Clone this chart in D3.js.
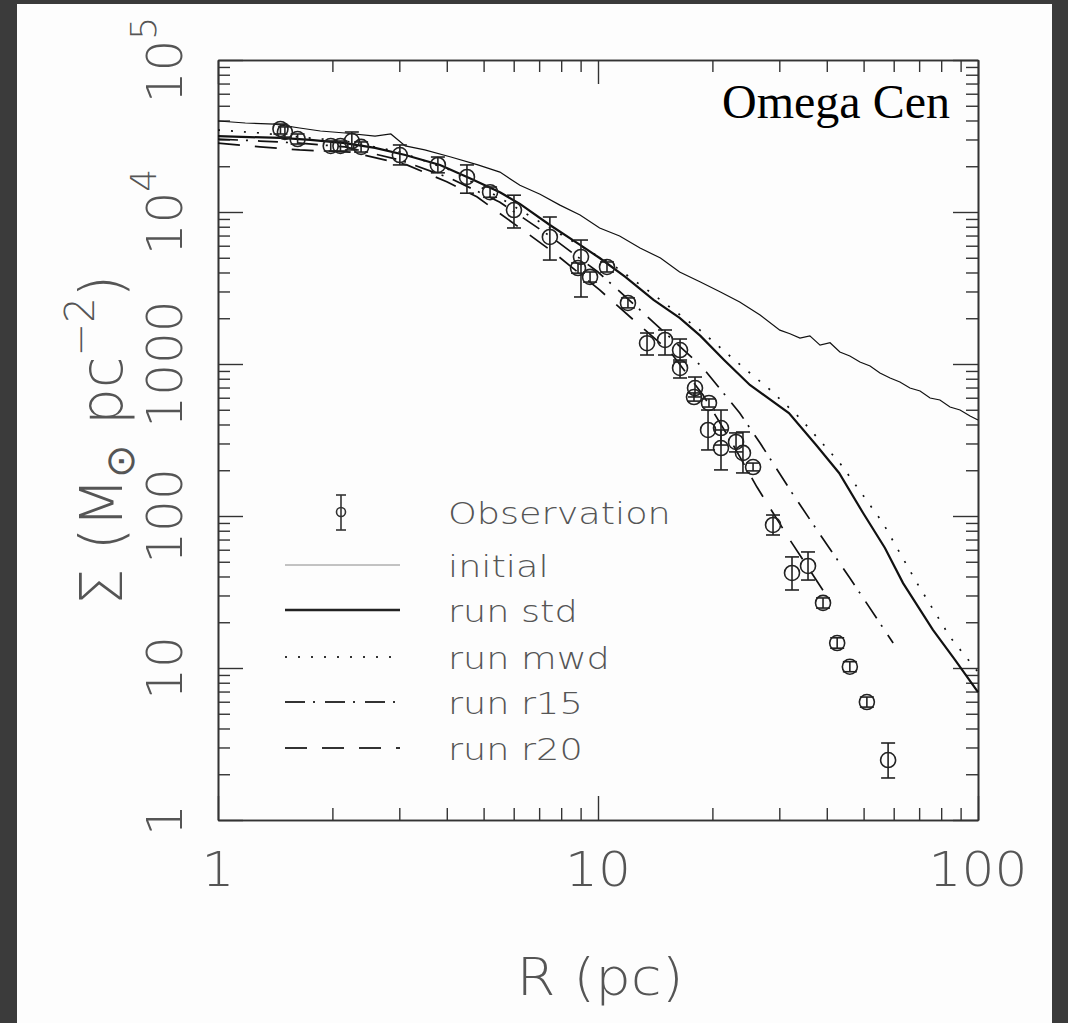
<!DOCTYPE html>
<html><head><meta charset="utf-8">
<script src="https://cdn.jsdelivr.net/npm/d3@7"></script>
<style>html,body{margin:0;padding:0;background:#3b3b3b;} svg{display:block}</style>
</head><body>
<svg id="c" width="1068" height="1023"></svg>
<script>
// ---------------- data ----------------
const initialR = [1,1.18,1.41,1.64,1.86,2.16,2.59,2.85,3.11,3.5,4.1,4.83,5.52,6.23,7.04,7.94,8.97,10.1,11.4,12.9,14.6,16.4,18.6,21.0,23.6,26.7,30.1,32.0,34.0,36.1,38.4,40.8,43.3,46.0,48.9,52.0,55.2,58.7,62.3,66.2,70.4,74.8,79.4,84.4,89.7,95.3,100];
const initialS = [39700,38500,37900,35700,34100,33100,31600,32600,27200,25600,23000,20400,18300,15000,13100,11100,9560,7850,6950,5800,4980,4030,3460,2980,2560,2100,1670,1580,1480,1530,1330,1380,1200,1130,1030,970,873,809,761,695,664,597,580,521,498,455,428];

const stdR = [1,1.21,1.46,1.75,2.16,2.59,3.11,3.84,4.6,5.52,6.23,7.47,8.97,10.1,11.8,14.0,16.4,18.6,21.5,25.1,31.8,37.5,43.1,49.8,56.9,63.5,76.1,87.0,100];
const stdS = [31600,31100,30700,29800,28400,26400,23700,20400,16700,13500,11300,8210,6070,4980,3740,2640,2010,1530,1060,728,476,293,192,105,61.6,36.2,17.8,11.3,6.95];

const mwdR = [1,1.29,1.64,2.16,3.01,4.08,5.52,7.47,10.95,13.7,18.55,23.2,28.4,34.0,43.3,56.2,69.1,84.4,100];
const mwdS = [34600,33100,31100,29300,24800,18900,12400,7850,4480,2980,1670,1030,675,441,223,89.9,36.2,16.0,9.41];

const r15R = [1,1.29,1.64,2.16,3.01,4.08,5.52,7.47,10.0,12.9,18.8,23.6,26.7,32.4,37.7,46.0,59.8];
const r15S = [30200,29300,28400,26800,22000,16700,11600,6950,4030,2270,956,476,302,142,80.9,39.1,14.6];

const r20R = [1,1.29,1.64,2.23,3.14,4.0,4.8,6.23,7.61,10.1,12.4,15.5,18.9,22.3,26.2,32.0,40.3];
const r20S = [28400,26800,25600,24800,20400,15800,12600,7850,5460,3070,1950,1200,625,316,155,69.5,28.9];

const obsR  = [1.46,1.50,1.62,1.98,2.10,2.25,2.38,3.01,3.79,4.52,5.20,6.01,7.47,9.02,8.86,9.53,10.56,11.99,13.46,15.01,16.44,16.44,18.0,17.89,19.59,19.48,21.07,21.07,23.08,24.07,25.59,28.88,32.4,35.7,39.1,42.6,46.0,51.0,58.0];
const obsS  = [35200,33600,30200,27200,27200,29300,26800,23700,20400,17000,13500,10300,6850,5060,4280,3740,4350,2520,1370,1440,1236,942,695,606,554,368,379,280,307,260,210,87.3,42.2,46.9,26.8,14.6,10.2,5.97,2.48];
const obsLo = [32600,31100,28000,25200,25200,25600,24800,20400,18100,13300,12500,7850,4830,2760,3960,3460,4030,2340,1146,1146,1062,809,607,570,521,272,293,201,264,192,198,75,32.6,37.9,24.8,13.5,9.45,5.53,1.89];
const obsHi = [37900,36300,32600,29300,29300,33600,28900,27600,23000,20400,14600,12900,9270,6540,4620,4030,4690,2720,1599,1674,1460,1031,821,645,589,498,498,368,352,357,223,101.5,53.8,58,28.9,15.8,11.0,6.44,3.21];

const xMajor = [1,10,100];
const yMajor = [1,10,100,1000,1e4,1e5];
const yTickBase = ["1","10","100","1000","10","10"];
const yTickExp  = ["","","","","4","5"];
const legendLabels = ["Observation","initial","run std","run mwd","run r15","run r20"];
const titleText = "Omega Cen";

// ---------------- drawing ----------------
const svg = d3.select("#c");
svg.append("rect").attr("width",1068).attr("height",1023).attr("fill","#3b3b3b");
svg.append("rect").attr("x",17).attr("y",4).attr("width",1035).attr("height",1019).attr("fill","#fdfdfd");

const L=218,R=978,T=60,B=820;
const x = d3.scaleLog().domain([1,100]).range([L,R]);
const y = d3.scaleLog().domain([1,1e5]).range([B,T]);

const xMinor=[], yMinor=[];
[1,10].forEach(d=>{for(let k=2;k<=9;k++) xMinor.push(k*d);});
[1,10,100,1000,1e4].forEach(d=>{for(let k=2;k<=9;k++) yMinor.push(k*d);});

const axColor="#333";
function axis(gen, tr, vals, size){
  const g=svg.append("g").attr("transform",tr)
    .call(gen.tickValues(vals).tickSize(size).tickSizeOuter(0).tickFormat(""));
  g.select(".domain").attr("stroke",axColor).attr("stroke-width",1.6);
  g.selectAll(".tick line").attr("stroke",axColor).attr("stroke-width",1.4);
  return g;
}
axis(d3.axisBottom(x),`translate(0,${B})`,xMajor,-24);
axis(d3.axisBottom(x),`translate(0,${B})`,xMinor,-12);
axis(d3.axisTop(x),`translate(0,${T})`,xMajor,-24);
axis(d3.axisTop(x),`translate(0,${T})`,xMinor,-12);
axis(d3.axisLeft(y),`translate(${L},0)`,yMajor,-25);
axis(d3.axisLeft(y),`translate(${L},0)`,yMinor,-12);
axis(d3.axisRight(y),`translate(${R},0)`,yMajor,-25);
axis(d3.axisRight(y),`translate(${R},0)`,yMinor,-12);

const txtFont="'DejaVu Sans', sans-serif";
const txtColor="#555";
// x tick labels
svg.append("g").selectAll("text").data(xMajor).join("text")
  .attr("transform",d=>`translate(${x(d)},886) scale(1.08,1)`)
  .attr("text-anchor","middle").attr("font-family",txtFont).attr("font-weight",200)
  .attr("font-size",48).attr("fill",txtColor).text(d=>String(d));
// y tick labels (rotated)
const yl = svg.append("g").selectAll("text").data(yMajor).join("text")
  .attr("transform",d=>`translate(182,${y(d)}) rotate(-90)`)
  .attr("text-anchor","middle").attr("font-family",txtFont).attr("font-weight",200)
  .attr("font-size",50).attr("fill",txtColor);
yl.append("tspan").text((d,i)=>yTickBase[i]);
yl.append("tspan").attr("font-size",36).attr("dy",-26).text((d,i)=>yTickExp[i]);

// axis titles
svg.append("text").attr("transform","translate(600,995) scale(1.08,1)")
  .attr("text-anchor","middle").attr("font-family",txtFont).attr("font-weight",200)
  .attr("font-size",52).attr("fill",txtColor).text("R (pc)");
const yt = svg.append("text").attr("transform","translate(122,440) rotate(-90)")
  .attr("text-anchor","middle").attr("font-family",txtFont).attr("font-weight",200)
  .attr("font-size",58).attr("fill",txtColor);
yt.append("tspan").text("Σ (M");
yt.append("tspan").attr("font-size",40).attr("dy",12).text("⊙");
yt.append("tspan").attr("dy",-12).text(" pc");
yt.append("tspan").attr("font-size",40).attr("dy",-28).text("−2");
yt.append("tspan").attr("dy",28).text(")");

// title
svg.append("text").attr("x",950).attr("y",118).attr("text-anchor","end")
  .attr("font-family","'Liberation Serif','Times New Roman',serif").attr("font-size",48)
  .attr("fill","#000").text(titleText);

// lines
const line = d3.line().x(d=>x(d[0])).y(d=>y(d[1]));
const series = [
  {R:initialR,S:initialS,w:1.2,dash:null,c:"#111"},
  {R:stdR,S:stdS,w:2.2,dash:null,c:"#111"},
  {R:mwdR,S:mwdS,w:1.7,dash:"2,11",c:"#111"},
  {R:r15R,S:r15S,w:1.7,dash:"20,8,2,10",c:"#111"},
  {R:r20R,S:r20S,w:1.7,dash:"22,15",c:"#111"}
];
series.forEach(s=>{
  svg.append("path").datum(d3.zip(s.R,s.S)).attr("d",line)
    .attr("fill","none").attr("stroke",s.c).attr("stroke-width",s.w)
    .attr("stroke-dasharray",s.dash);
});

// observations
const obs = obsR.map((r,i)=>({r,s:obsS[i],lo:obsLo[i],hi:obsHi[i]}));
const og = svg.append("g").attr("stroke","#222").attr("stroke-width",1.6).attr("fill","none");
og.selectAll("line.v").data(obs).join("line").attr("class","v")
  .attr("x1",d=>x(d.r)).attr("x2",d=>x(d.r)).attr("y1",d=>y(d.lo)).attr("y2",d=>y(d.hi));
og.selectAll("line.t").data(obs).join("line").attr("class","t")
  .attr("x1",d=>x(d.r)-7).attr("x2",d=>x(d.r)+7).attr("y1",d=>y(d.hi)).attr("y2",d=>y(d.hi));
og.selectAll("line.b").data(obs).join("line").attr("class","b")
  .attr("x1",d=>x(d.r)-7).attr("x2",d=>x(d.r)+7).attr("y1",d=>y(d.lo)).attr("y2",d=>y(d.lo));
og.selectAll("circle").data(obs).join("circle")
  .attr("cx",d=>x(d.r)).attr("cy",d=>y(d.s)).attr("r",7.5);

// legend
const legY=[512,565,610,657,702,748];
const lg = svg.append("g");
lg.append("line").attr("x1",341).attr("x2",341).attr("y1",495).attr("y2",530).attr("stroke","#333").attr("stroke-width",1.6);
lg.append("line").attr("x1",336).attr("x2",346).attr("y1",495).attr("y2",495).attr("stroke","#333").attr("stroke-width",1.6);
lg.append("line").attr("x1",336).attr("x2",346).attr("y1",530).attr("y2",530).attr("stroke","#333").attr("stroke-width",1.6);
lg.append("circle").attr("cx",341).attr("cy",512).attr("r",4.5).attr("fill","none").attr("stroke","#333").attr("stroke-width",1.6);
const legStyles=[null,{w:1,dash:null,c:"#888"},{w:2.4,dash:null,c:"#222"},{w:1.8,dash:"2,11",c:"#333"},{w:1.8,dash:"20,8,2,10",c:"#333"},{w:1.8,dash:"22,15",c:"#333"}];
legStyles.forEach((s,i)=>{
  if(!s) return;
  lg.append("line").attr("x1",285).attr("x2",400).attr("y1",legY[i]).attr("y2",legY[i])
    .attr("stroke",s.c).attr("stroke-width",s.w).attr("stroke-dasharray",s.dash);
});
lg.selectAll("text").data(legendLabels).join("text")
  .attr("transform",(d,i)=>`translate(448,${legY[i]+12}) scale(1.22,1)`)
  .attr("font-family",txtFont).attr("font-weight",200).attr("font-size",30)
  .attr("fill",txtColor).text(d=>d);
</script>
</body></html>
